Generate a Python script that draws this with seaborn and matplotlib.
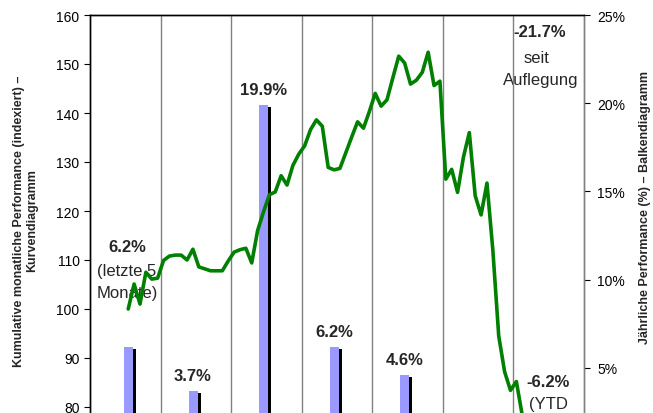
import matplotlib
matplotlib.use("Agg")
import matplotlib.pyplot as plt
import matplotlib.patheffects as pe
from matplotlib.ticker import FuncFormatter
import numpy as np
import pandas as pd
import seaborn as sns

# ---------------- data ----------------
columns = ["letzte 5 Monate", "Jahr 2", "Jahr 3", "Jahr 4", "Jahr 5", "Jahr 6", "YTD"]
annual_perf = [6.2, 3.7, 19.9, 6.2, 4.6, -43.1, -6.2]
annual_labels = ["6.2%", "3.7%", "19.9%", "6.2%", "4.6%", "", ""]
first_month = 7  # calendar month of the starting point in the first column

monthly_index = [
    100.0, 105.1, 101.0, 107.5, 106.1, 106.3,
    109.9, 110.8, 111.0, 111.0, 110.0, 112.2, 108.6, 108.2, 107.8, 107.8, 107.8, 109.8,
    111.6, 112.1, 112.4, 109.4, 116.0, 119.8, 123.3, 123.9, 127.2, 125.3, 129.3, 131.6,
    133.3, 136.6, 138.6, 137.3, 128.9, 128.4, 128.7, 131.9, 135.1, 138.2, 136.9, 140.3,
    144.0, 141.4, 142.7, 147.2, 151.6, 150.2, 145.9, 146.7, 148.3, 152.4, 145.6, 146.5,
    126.5, 128.5, 123.8, 131.0, 136.0, 123.1, 119.2, 125.7, 112.0, 94.5, 87.2, 83.4,
    85.2, 78.3,
]

left_ticks = [80, 90, 100, 110, 120, 130, 140, 150, 160]
right_ticks = [5, 10, 15, 20, 25]

# ---------------- style ----------------
sns.set_style("ticks")
plt.rcParams["font.family"] = ["Liberation Sans", "DejaVu Sans"]

GREEN = "#008000"
LAVENDER = "#9999FF"
GRID = "#808080"

fig = plt.figure(figsize=(6.53, 4.14), dpi=100)
# axes extends below the visible figure (chart is cropped at the bottom)
ax = fig.add_axes([90 / 653, -43 / 414, 494 / 653, 441 / 414])
ax2 = ax.twinx()

# ---------------- bars (right axis) ----------------
df_bar = pd.DataFrame({"Spalte": columns, "Performance": annual_perf})
sns.barplot(data=df_bar, x="Spalte", y="Performance", ax=ax2, color=LAVENDER,
            saturation=1, width=0.128, edgecolor="none", linewidth=0)
bar_shifts = [0.04, -0.04, -0.04, -0.04, -0.04, -0.04, -0.04]
for p, s in zip(ax2.patches, bar_shifts):
    p.set_x(p.get_x() + s)
    p.set_path_effects([pe.SimplePatchShadow(offset=(2.2, -1.4), shadow_rgbFace="black", alpha=1.0),
                        pe.Normal()])

# ---------------- line (left axis) ----------------
n = len(monthly_index)
month_pos = (np.arange(n) + first_month - 0.5) / 12 - 0.5
df_line = pd.DataFrame({"pos": month_pos, "Index": monthly_index})
sns.lineplot(data=df_line, x="pos", y="Index", ax=ax, color=GREEN, linewidth=2.6)

ax.set_zorder(ax2.get_zorder() + 1)
ax.patch.set_visible(False)

# ---------------- axes ----------------
ax.set_xlim(-0.5, len(columns) - 0.5)
ax.set_ylim(70, 160)
ax2.set_ylim(0, 25)
ax.set_yticks(left_ticks)
ax2.set_yticks(right_ticks)
ax2.yaxis.set_major_formatter(FuncFormatter(lambda v, _: f"{v:.0f}%"))
ax.set_xticks([])
ax2.set_xticks([])
ax.set_xlabel("")
ax2.set_xlabel("")
ax.set_ylabel("")
ax2.set_ylabel("")

for b in np.arange(0.5, len(columns) - 0.5, 1.0):
    ax.axvline(b, color=GRID, lw=1.0, zorder=0.5)

for a in (ax, ax2):
    for s in a.spines.values():
        s.set_visible(True)
        s.set_color("black")
        s.set_linewidth(1.0)
ax2.spines["right"].set_color(GRID)
ax.spines["right"].set_color(GRID)

ax.tick_params(axis="y", labelsize=10, length=4.5, width=0.8, pad=3, colors="black")
ax2.tick_params(axis="y", labelsize=10, length=4.5, width=0.8, pad=5, colors="black")

# ---------------- labels ----------------
bar_centers = np.arange(len(columns)) + np.array(bar_shifts)
for i, (val, lab) in enumerate(zip(annual_perf, annual_labels)):
    if lab and i > 0:
        ax2.annotate(lab, (bar_centers[i], val), xytext=(0, 10.5), textcoords="offset pixels",
                     ha="center", va="baseline", fontsize=12, fontweight="bold")

ax2.text(0.024, 11.9, annual_labels[0], ha="center", va="center", fontsize=12, fontweight="bold")
ax2.text(0.024, 10.54, "(letzte 5", ha="center", va="center", fontsize=12)
ax2.text(0.024, 9.29, "Monate)", ha="center", va="center", fontsize=12)

ax2.text(5.877, 24.04, "-21.7%", ha="center", va="center", fontsize=12, fontweight="bold")
ax2.text(5.834, 22.6, "seit", ha="center", va="center", fontsize=12)
ax2.text(5.89, 21.37, "Auflegung", ha="center", va="center", fontsize=12)

ax2.text(5.99, 4.2, "-6.2%", ha="center", va="center", fontsize=12, fontweight="bold")
ax2.text(5.99, 2.95, "(YTD", ha="center", va="center", fontsize=12)

fig.text(25.5 / 653, (414 - 221) / 414,
         "Kumulative monatliche Performance (indexiert) –\nKurvendiagramm",
         rotation=90, ha="center", va="center", multialignment="center",
         fontsize=9, fontweight="bold")
fig.text(645 / 653, (414 - 208) / 414, "Jährliche Performance (%) – Balkendiagramm",
         rotation=90, ha="center", va="center", fontsize=9, fontweight="bold")

fig.savefig("out.png", dpi=100)
